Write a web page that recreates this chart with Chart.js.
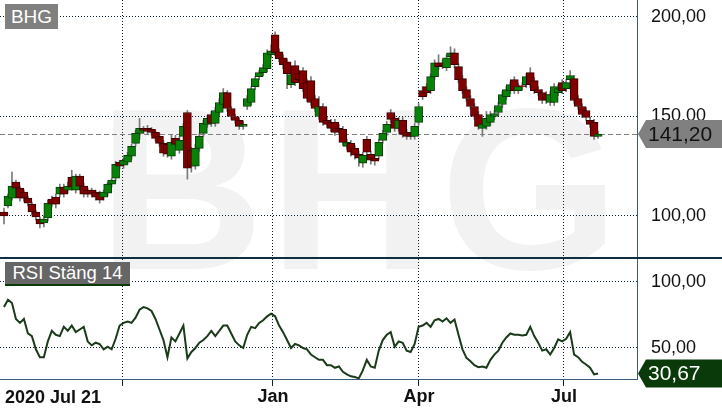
<!DOCTYPE html>
<html>
<head>
<meta charset="utf-8">
<script src="https://cdn.jsdelivr.net/npm/chart.js@4.4.0/dist/chart.umd.min.js"></script>
<style>
    html, body { margin: 0; padding: 0; background: #fff; }
    #wrap { position: relative; width: 722px; height: 411px; overflow: hidden; font-family: "Liberation Sans", Arial, sans-serif; }
    #mark { position: absolute; left: 98px; top: 75px; font-size: 230px; line-height: 230px; letter-spacing: 5px; font-weight: bold; color: #f2f2f2; white-space: nowrap; }
    #top { position: absolute; left: 0; top: 0; width: 722px; height: 257px; }
    #sep { position: absolute; left: 0; top: 257px; width: 722px; height: 2px; background: #0e2f3f; }
    #bottom { position: absolute; left: 0; top: 259px; width: 722px; height: 152px; }
    .box { position: absolute; color: #fff; text-align: center; white-space: nowrap; }
    #lblPrice { left: 5px; top: 4px; width: 53px; height: 25px; line-height: 25px; font-size: 19px; background: #808080; }
    #lblRsi { left: 5px; top: 262px; width: 125px; height: 22px; line-height: 22px; font-size: 18.5px; background: #666; border-bottom: 2px solid #0a3a0a; }
    #startLbl { position: absolute; left: 5px; top: 388px; font-size: 18px; line-height: 18px; font-weight: bold; color: #111; }
</style>
</head>
<body>
<div id="wrap">
    <div id="mark">BHG</div>
    <div id="top"><canvas id="priceChart" width="722" height="257"></canvas></div>
    <div id="sep"></div>
    <div id="bottom"><canvas id="rsiChart" width="722" height="152"></canvas></div>
    <div class="box" id="lblPrice">BHG</div>
    <div class="box" id="lblRsi">RSI Stäng 14</div>
    <div id="startLbl"></div>
</div>
<script>
// one candle every second trading day, 2020 Jul 21 .. 2021 Jul
const startLabel = '2020 Jul 21';
const monthStartIdx = [29.85, 67.47, 104.09, 140.46];
const monthLabels = ['', 'Jan', 'Apr', 'Jul'];

const opens = [102,105,109,117,114,112,109,106,102,98.5,
    96.5,99,108.5,109.5,111,114.5,113,119.5,113,120,
    115,113,113,112,111.5,109.5,111.5,116,119,127,
    125.5,127,130,136.5,141.5,144,144,143.5,142,140,
    136.5,136,130,139,133,140,152,133,125,134,
    141.5,146,151,146.5,152,156,162,154,150,148,
    145,155,157,165,170,172,174,181,191,182.5,
    179.5,177.5,166,175.5,171.5,173,167,168,159,150,
    155,148,147,147,144,143.5,135,136.5,134,131,
    126.5,138.5,131,129,130,138,142,152,149,144,
    148,142,141,140,147,163,165,163,170,177,
    177,174.5,180,182,175,169,163.5,159,155,151,
    144,145,147,150,152,156,160,163,168.5,163,
    165.5,166,172,168,163.5,162,161,157,157,162,
    167,164,168.5,169,159,155,153,148,147,140];

const highs = [104,111,122,118,115,113,110,107,103,99.5,
    100,108,110,111,116,116,117,123,121,121,
    116.5,114,114,113,112.5,113,117,119,127.5,128,
    129,132,136,143,149,145,145.5,144.5,143,141.5,
    138,137,141,140.5,140,146.5,153,134.5,136,141.5,
    148,150.5,152.5,154.5,159,164,163,155,151,149,
    147.5,160.5,165,170,173,176,183.5,186,192.5,184,
    181,179,172.5,178,173,174.5,168.5,170,160.5,160,
    156.5,149.5,148.5,148.5,146,145,138.5,138,135.5,132.5,
    132,140,132.5,130.5,138.5,143,147.5,153.5,150.5,149.5,
    149.5,143.5,142,146.5,156.5,165,166.5,171.5,178.5,181,
    178.5,181,185,184,176.5,170.5,165,160.5,156.5,152.5,
    148,152.5,152.5,153,157,162.5,165,167.5,170,166.5,
    167,171.5,174.5,169.5,165,163.5,162.5,162.5,166.5,166,
    168.5,168.5,173,170.5,160.5,156.5,154.5,149.5,148.5,142.5];

const lows = [96,104,108,112.5,107.5,107.5,105,100.5,98,94,
    94.5,97.5,104.5,104,109.5,109.5,111.5,113,111.5,113.5,
    109.5,109.5,109.5,108,106.5,108,110,114.5,117.5,123.5,
    124,126,128.5,135,138.5,141.5,141,140.5,137.5,135,
    130,129.5,128.5,134.5,131.5,138.5,118.5,122,123.5,132.5,
    140,144.5,145,145,150.5,154.5,152.5,148.5,146.5,143.5,
    143.5,153.5,155.5,163.5,168.5,170.5,172.5,179.5,180.5,177.5,
    174,164,164.5,165.5,167,162.5,157.5,155.5,152.5,148.5,
    145.5,144.5,142.5,140.5,141.5,135.5,133.5,130,128.5,125,
    124.5,130.5,126,125.5,128.5,136.5,140.5,147,142.5,142.5,
    139.5,138.5,138.5,138.5,145.5,158.5,160.5,161.5,168.5,173.5,
    174,173,178.5,174.5,167,161.5,157.5,153.5,148.5,143.5,
    140,143.5,145.5,148.5,150.5,154.5,158.5,161.5,161.5,161.5,
    163.5,164.5,164.5,161.5,160.5,156.5,156.5,155.5,155.5,160.5,
    161.5,162.5,167,156.5,153.5,149.5,148,144.5,138.5,139];

const closes = [100,110,115,114,109,109,106.5,102,99.5,96,
    98.5,106.5,106,106,114.5,111,115,114.5,120,115,
    111,111,111,109.5,108,112,116,118,126,125,
    128,130.5,135,141.5,144,143,142.5,142,139,136.5,
    131.5,131,137,136,138,145,124,125,134,140,
    146.5,149,146.5,153,157,162,154,150,148,145,
    146,159,164,169,172,174.5,182,183,182,179,
    176,171.5,171,167,168.5,164,159,157,154,155,
    147,146,144,142,143,137,137,132,130.5,129,
    130.5,132,128,127.5,137,141.5,146,148.5,144,148,
    141,140,140,145,155,160,162,170,177,175,
    175.5,179.5,182,176,168.5,163,159,155,150,145,
    146,149,151,151.5,155.5,161,163.5,166,163,165,
    165,170,166,163,162,158,158.5,161,165,164,
    163,167,170.5,158,155,151,149.5,146,140,141.2];

const rsi = [81,86.5,84,72,69,72,61,59,49,43,
    43,55,63,60,59,66,63,67,62,64,
    66,55,52,54,53,49,51,49,57,67,
    69,70,69,73,79,81,80,78,72,64,
    56,43,58,55,61,67,42,47,50,54,
    56,59,63,59,63,67,67,61,55,52,
    50,60,66,65,69,71,74,76,74,67,
    62,56,50,53,52,50,49,45,43,41,
    41,37,37,35,36,32,30,28.5,28,27,
    33,41,36,35,48,56,60,62,51,55,
    54,48,47,53,66,67,69,66,71,72,
    70,72.5,69,71.5,60,49,42.5,40,37,35.5,
    36,35,41,45,48,54,58,61,60,60,
    59.5,60,66,59,54,48,49,45,50,56.5,
    55,57,62,45,43,39.5,37.5,35,30,30.67];

const priceTicks = [100, 150, 200];
const rsiTicks = [50, 100];

const X_MIN = -1.0;
const X_MAX = 158.77;
const GRID = '#0b2233';
const EDGE = '#3b5b7b';
const FONT = '"Liberation Sans", Arial, sans-serif';

document.getElementById('startLbl').textContent = startLabel;

const fmt = v => v.toFixed(2).replace('.', ',');

// last value tag on the right axis
const tagPlugin = {
    id: 'tag',
    afterDraw(chart, args, opts) {
        const ctx = chart.ctx;
        const y = chart.scales.y.getPixelForValue(opts.value);
        const x0 = chart.chartArea.right + 1;
        ctx.save();
        ctx.fillStyle = opts.bg;
        ctx.beginPath();
        ctx.moveTo(x0, y);
        ctx.lineTo(x0 + 8, y - 14);
        ctx.lineTo(722, y - 14);
        ctx.lineTo(722, y + 14);
        ctx.lineTo(x0 + 8, y + 14);
        ctx.closePath();
        ctx.fill();
        ctx.fillStyle = opts.fg;
        ctx.font = '21px ' + FONT;
        ctx.textBaseline = 'middle';
        ctx.fillText(fmt(opts.value), x0 + 10, y + 1);
        ctx.restore();
    }
};

// dashed line at the last close
const lastLine = {
    id: 'lastLine',
    beforeDatasetsDraw(chart) {
        const ctx = chart.ctx;
        const y = Math.round(chart.scales.y.getPixelForValue(closes[closes.length - 1])) + 0.5;
        ctx.save();
        ctx.strokeStyle = '#808080';
        ctx.lineWidth = 1;
        ctx.setLineDash([5, 3]);
        ctx.beginPath();
        ctx.moveTo(chart.chartArea.left, y);
        ctx.lineTo(chart.chartArea.right, y);
        ctx.stroke();
        ctx.restore();
    }
};

function noPad(s) {
    s.paddingTop = 0;
    s.paddingBottom = 0;
    s.paddingLeft = 0;
    s.paddingRight = 0;
}

function xScale(bottom) {
    return {
        type: 'linear',
        min: X_MIN,
        max: X_MAX,
        offset: false,
        afterBuildTicks: s => { s.ticks = monthStartIdx.map(v => ({ value: v })); },
        afterFit: s => { s.height = bottom ? 32 : 0; noPad(s); },
        grid: {
            offset: false,
            color: GRID,
            drawTicks: bottom,
            tickLength: 7,
            tickColor: GRID
        },
        border: { display: bottom, color: EDGE, dash: [1, 2] },
        ticks: {
            display: bottom,
            autoSkip: false,
            maxRotation: 0,
            padding: 0,
            color: '#111',
            font: { family: FONT, size: 18, weight: 'bold' },
            callback: (v, i) => monthLabels[i]
        }
    };
}

function yScale(min, max, ticks) {
    return {
        position: 'right',
        min: min,
        max: max,
        afterBuildTicks: s => { s.ticks = ticks.map(v => ({ value: v })); },
        afterFit: s => { s.width = 85; noPad(s); },
        grid: { color: GRID, drawTicks: false },
        border: { display: true, color: EDGE, dash: [1, 2] },
        ticks: {
            padding: 14,
            color: '#111',
            font: { family: FONT, size: 18 },
            callback: v => fmt(v)
        }
    };
}

const idx = closes.map((c, i) => i);
const up = idx.map(i => closes[i] >= opens[i]);

new Chart(document.getElementById('priceChart'), {
    type: 'bar',
    data: {
        datasets: [{
            label: 'body',
            order: 0,
            data: idx.map(i => ({ x: i, y: [opens[i], closes[i]] })),
            backgroundColor: up.map(u => u ? '#078207' : '#800000'),
            borderColor: up.map(u => u ? '#0a3d0a' : '#3c0000'),
            borderWidth: 1,
            borderSkipped: false,
            barThickness: 8,
            grouped: false
        }, {
            label: 'wick',
            order: 1,
            data: idx.map(i => ({ x: i, y: [lows[i], highs[i]] })),
            backgroundColor: '#7a7a7a',
            barThickness: 1,
            grouped: false
        }]
    },
    options: {
        responsive: false,
        animation: false,
        layout: { padding: 0 },
        plugins: {
            legend: { display: false },
            tooltip: { enabled: false },
            tag: { value: closes[closes.length - 1], bg: '#808080', fg: '#111' }
        },
        scales: {
            x: xScale(false),
            y: yScale(79.4, 208.5, priceTicks)
        }
    },
    plugins: [lastLine, tagPlugin]
});

new Chart(document.getElementById('rsiChart'), {
    type: 'line',
    data: {
        datasets: [{
            label: 'RSI',
            data: idx.map(i => ({ x: i, y: rsi[i] })),
            borderColor: '#1a3a1a',
            borderWidth: 2,
            pointRadius: 0,
            tension: 0
        }]
    },
    options: {
        responsive: false,
        animation: false,
        layout: { padding: 0 },
        plugins: {
            legend: { display: false },
            tooltip: { enabled: false },
            tag: { value: rsi[rsi.length - 1], bg: '#0a3a0a', fg: '#fff' }
        },
        scales: {
            x: xScale(true),
            y: yScale(26.5, 117.4, rsiTicks)
        }
    },
    plugins: [tagPlugin]
});
</script>
</body>
</html>
